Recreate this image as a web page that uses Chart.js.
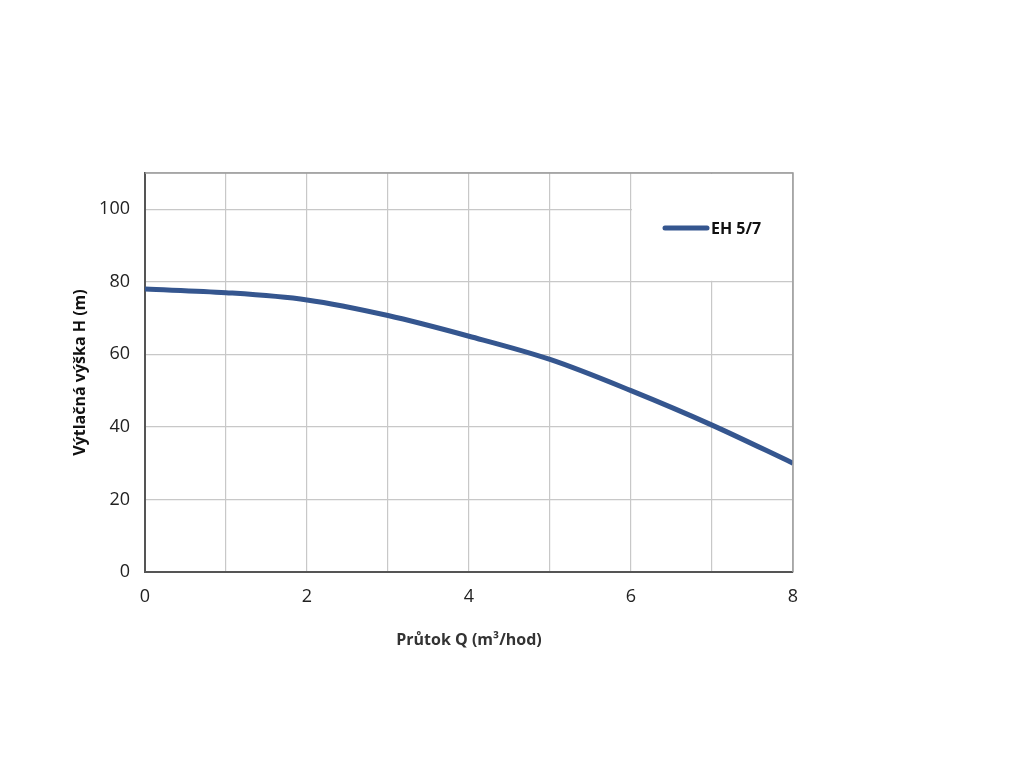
<!DOCTYPE html>
<html>
<head>
<meta charset="utf-8">
<script src="https://cdn.jsdelivr.net/npm/chart.js@4"></script>
<style>
  html, body { margin: 0; padding: 0; background: #fff; }
  #wrap { width: 1024px; height: 768px; }
</style>
</head>
<body>
<div id="wrap"><canvas id="myChart" width="1024" height="768"></canvas></div>
<script>
const flow = [0, 1, 2, 3, 4, 5, 6, 7, 8];
const head = [78, 77, 75, 70.7, 65, 58.6, 50, 40.5, 30];
const seriesName = 'EH 5/7';
const xTitle = 'Průtok Q (m³/hod)';
const yTitle = 'Výtlačná výška H (m)';

const lineColor = '#35568f';
const font = "'Open Sans', 'DejaVu Sans', sans-serif";

// white legend box drawn over the grid, top right of plot
const legendBox = {
  id: 'legendBox',
  beforeDatasetsDraw(chart) {
    const { ctx, chartArea: a, scales } = chart;
    const x0 = scales.x.getPixelForValue(6) + 1;
    const y1 = scales.y.getPixelForValue(80) - 1;
    ctx.save();
    ctx.fillStyle = '#fff';
    ctx.fillRect(x0, a.top + 1, a.right - x0 - 1, y1 - a.top - 1);
    ctx.restore();
  },
  afterDatasetsDraw(chart) {
    const { ctx, chartArea: a } = chart;
    ctx.save();
    // frame top and right
    ctx.strokeStyle = '#9a9a9a';
    ctx.lineWidth = 1.5;
    ctx.beginPath();
    ctx.moveTo(a.left, a.top);
    ctx.lineTo(a.right, a.top);
    ctx.lineTo(a.right, a.bottom);
    ctx.stroke();
    // legend entry
    ctx.strokeStyle = lineColor;
    ctx.lineWidth = 5;
    ctx.lineCap = 'round';
    ctx.beginPath();
    ctx.moveTo(665, 228);
    ctx.lineTo(707, 228);
    ctx.stroke();
    ctx.fillStyle = '#111';
    ctx.font = 'bold 16px ' + font;
    ctx.textBaseline = 'middle';
    ctx.fillText(seriesName, 711, 229);
    ctx.restore();
  }
};

const ctx = document.getElementById('myChart').getContext('2d');
const myChart = new Chart(ctx, {
  type: 'line',
  data: {
    datasets: [{
      label: seriesName,
      data: flow.map((q, i) => ({ x: q, y: head[i] })),
      borderColor: lineColor,
      borderWidth: 5,
      pointRadius: 0,
      cubicInterpolationMode: 'monotone',
      fill: false,
    }],
  },
  options: {
    responsive: false,
    animation: false,
    layout: { padding: { left: 60, top: 173, right: 231, bottom: 106 } },
    plugins: { legend: { display: false }, tooltip: { enabled: false } },
    scales: {
      x: {
        type: 'linear',
        min: 0,
        max: 8,
        afterFit: (s) => { s.height = 90; },
        ticks: {
          stepSize: 1,
          padding: 14,
          color: '#222',
          font: { family: font, size: 18 },
          callback: (v) => (v % 2 === 0 ? v : ''),
          maxRotation: 0,
          autoSkip: false,
        },
        grid: { color: '#c8c8c8', lineWidth: 1.2, drawTicks: false },
        border: { color: '#555', width: 2 },
        title: {
          display: true,
          text: xTitle,
          color: '#333',
          font: { family: font, size: 16, weight: 'bold' },
          padding: { bottom: 12 },
        },
      },
      y: {
        min: 0,
        max: 110,
        afterFit: (s) => { s.width = 85; },
        ticks: {
          stepSize: 20,
          padding: 15,
          color: '#222',
          font: { family: font, size: 18 },
          callback: (v) => (v % 20 === 0 ? v : ''),
        },
        grid: { color: '#c8c8c8', lineWidth: 1.2, drawTicks: false },
        border: { color: '#555', width: 2 },
        title: {
          display: true,
          text: yTitle,
          color: '#111',
          font: { family: font, size: 16, weight: 'bold' },
          padding: { top: 11 },
        },
      },
    },
  },
  plugins: [legendBox],
});
</script>
</body>
</html>
